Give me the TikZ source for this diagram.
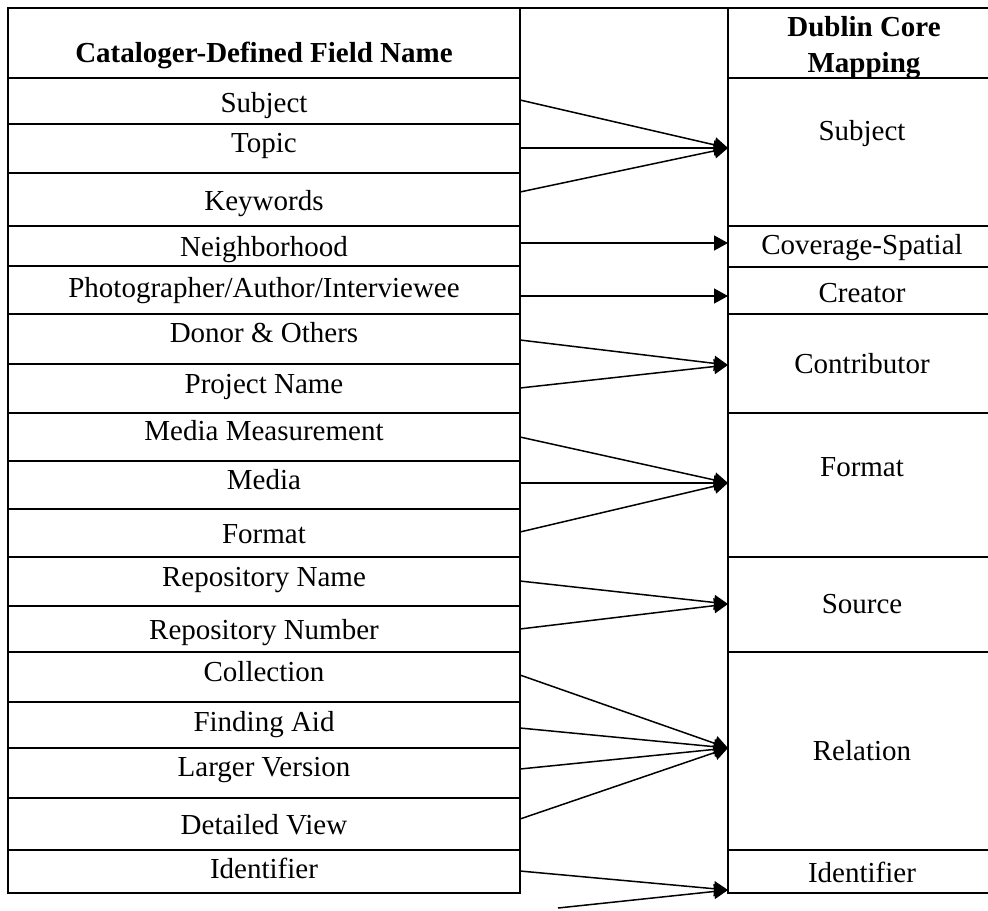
\documentclass[tikz,border=0pt]{standalone}
\usepackage{fontspec}
\setmainfont{Liberation Serif}
\usetikzlibrary{arrows.meta,calc,fit}

\begin{document}
\begin{tikzpicture}[x=0.5pt,y=-0.5pt,
  cell/.style={draw, line width=1pt, inner sep=0pt, outer sep=0pt},
  lbl/.style={anchor=base, inner sep=0pt, font=\fontsize{14.5}{17}\selectfont},
  hdr/.style={anchor=base, inner sep=0pt, font=\fontsize{14.5}{17}\selectfont\bfseries},
  link/.style={line width=0.75pt, -{Triangle[length=7pt,width=7.5pt]}}]

\path[use as bounding box, clip] (0,0) rectangle (988,910);

% ---- left table: catalogue fields ----
\node[cell, fit={(8,8) (520,78)}] (hdrL) {};
\foreach \n/\a/\b in {subjL/78/124, topicL/124/173, keyL/173/226,
    neighL/226/266, photoL/266/314, donorL/314/364, projL/364/413,
    mmL/413/461, mediaL/461/509, formatL/509/557, rnameL/557/606,
    rnumL/606/652, collL/652/702, faL/702/748, lvL/748/798,
    dvL/798/850, identL/850/893}
  \node[cell, fit={(8,\a) (520,\b)}] (\n) {};

% ---- middle gap column ----
\draw[line width=1.2pt] (520,893) -- (520,8) -- (728,8) -- (728,893);

% ---- right table: Dublin Core elements ----
\node[cell, fit={(728,8) (1000,78)}] (hdrR) {};
\foreach \n/\a/\b in {subjR/78/226, covR/226/267, creatR/267/314,
    contR/314/413, formatR/413/557, sourceR/557/652, relR/652/850,
    identR/850/893}
  \node[cell, fit={(728,\a) (1000,\b)}] (\n) {};

% ---- left labels ----
\node[hdr] (tHdrL) at (264,62) {Cataloger-Defined Field Name};
\node[lbl] (tSubjL) at (264,112) {Subject};
\node[lbl] (tTopicL) at (264,152) {Topic};
\node[lbl] (tKeyL) at (264,210) {Keywords};
\node[lbl] (tNeighL) at (264,256) {Neighborhood};
\node[lbl] (tPhotoL) at (264,297) {Photographer/Author/Interviewee};
\node[lbl] (tDonorL) at (264,342) {Donor \& Others};
\node[lbl] (tProjL) at (264,393) {Project Name};
\node[lbl] (tMmL) at (264,440) {Media Measurement};
\node[lbl] (tMediaL) at (264,489) {Media};
\node[lbl] (tFormatL) at (264,543) {Format};
\node[lbl] (tRnameL) at (264,586) {Repository Name};
\node[lbl] (tRnumL) at (264,639) {Repository Number};
\node[lbl] (tCollL) at (264,681) {Collection};
\node[lbl] (tFaL) at (264,731) {Finding Aid};
\node[lbl] (tLvL) at (264,776) {Larger Version};
\node[lbl] (tDvL) at (264,834) {Detailed View};
\node[lbl] (tIdentL) at (264,878) {Identifier};

% ---- right labels ----
\node[hdr] (tHdrR1) at (864,36) {Dublin Core};
\node[hdr] (tHdrR2) at (864,72) {Mapping};
\node[lbl] (tSubjR) at (862,140) {Subject};
\node[lbl] (tCovR) at (862,254) {Coverage-Spatial};
\node[lbl] (tCreatR) at (862,302) {Creator};
\node[lbl] (tContR) at (862,373) {Contributor};
\node[lbl] (tFormatR) at (862,476) {Format};
\node[lbl] (tSourceR) at (862,613) {Source};
\node[lbl] (tRelR) at (862,760) {Relation};
\node[lbl] (tIdentR) at (862,882) {Identifier};

% ---- mappings ----
\draw[link] ($(subjL.east)+(0,-1)$) -- ($(subjR.west)+(0,-4)$);
\draw[link] ($(topicL.east)+(0,-0.5)$) -- ($(subjR.west)+(0,-4)$);
\draw[link] ($(keyL.east)+(0,-7.5)$) -- ($(subjR.west)+(0,-4)$);

\draw[link] ($(neighL.east)+(0,-3)$) -- ($(covR.west)+(0,-3.5)$);
\draw[link] ($(photoL.east)+(0,6)$) -- ($(creatR.west)+(0,5.5)$);

\draw[link] ($(donorL.east)+(0,1)$) -- ($(contR.west)+(0,1.5)$);
\draw[link] ($(projL.east)+(0,-0.5)$) -- ($(contR.west)+(0,1.5)$);

\draw[link] (mmL.east) -- ($(formatR.west)+(0,-2)$);
\draw[link] ($(mediaL.east)+(0,-2)$) -- ($(formatR.west)+(0,-2)$);
\draw[link] ($(formatL.east)+(0,-1)$) -- ($(formatR.west)+(0,-2)$);

\draw[link] ($(rnameL.east)+(0,-0.5)$) -- ($(sourceR.west)+(0,-0.5)$);
\draw[link] (rnumL.east) -- ($(sourceR.west)+(0,-0.5)$);

\draw[link] ($(collL.east)+(0,-2)$) -- ($(relR.west)+(0,-3)$);
\draw[link] ($(faL.east)+(0,3)$) -- ($(relR.west)+(0,-3)$);
\draw[link] ($(lvL.east)+(0,-4)$) -- ($(relR.west)+(0,-3)$);
\draw[link] ($(dvL.east)+(0,-5)$) -- ($(relR.west)+(0,-3)$);

\coordinate (loose) at (558,908);
\draw[link] ($(identL.east)+(0,-0.5)$) -- ($(identR.south west)+(0,-3)$);
\draw[link] (loose) -- ($(identR.south west)+(0,-3)$);
\end{tikzpicture}
\end{document}
